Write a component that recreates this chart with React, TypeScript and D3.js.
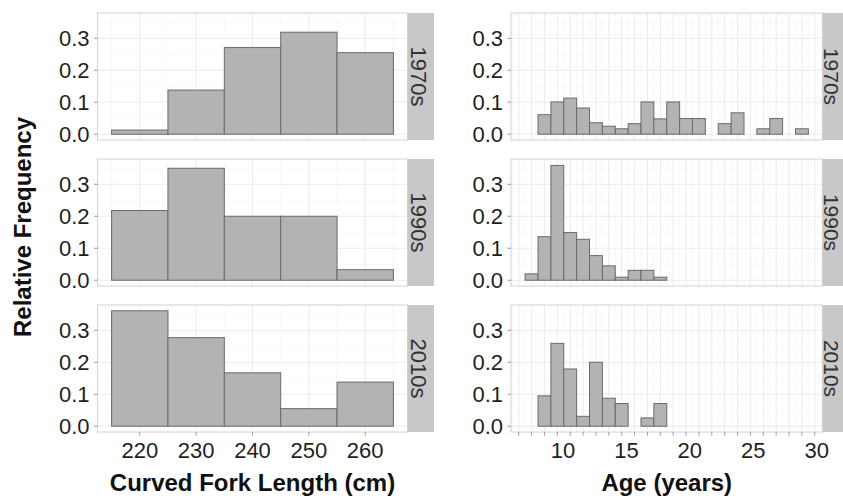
import React from "react";
import * as d3 from "d3";

// ---- Data ----
const decades = ["1970s", "1990s", "2010s"];

// Curved fork length histogram (bin width 10 cm)
const lengthBinStarts = [215, 225, 235, 245, 255];
const lengthBinWidth = 10;
const length1970s = [0.013, 0.138, 0.271, 0.319, 0.255];
const length1990s = [0.218, 0.35, 0.2, 0.2, 0.033];
const length2010s = [0.361, 0.277, 0.167, 0.055, 0.138];

// Age histogram (22 bins)
const ageBinStart = 7.02;
const ageBinWidth = 1.0145;
const age1970s = [0, 0.061, 0.101, 0.113, 0.082, 0.036, 0.025, 0.017, 0.033, 0.101, 0.048, 0.101, 0.049, 0.049, 0, 0.033, 0.067, 0, 0.017, 0.049, 0, 0.017];
const age1990s = [0.02, 0.136, 0.359, 0.149, 0.128, 0.077, 0.045, 0.0095, 0.031, 0.031, 0.0095, 0, 0, 0, 0, 0, 0, 0, 0, 0, 0, 0];
const age2010s = [0, 0.095, 0.259, 0.179, 0.031, 0.2, 0.0875, 0.071, 0, 0.026, 0.071, 0, 0, 0, 0, 0, 0, 0, 0, 0, 0, 0];

const lengthTicks = [220, 230, 240, 250, 260];
const ageTickLabels = [10, 15, 20, 25, 30];
const yTicks = [0, 0.1, 0.2, 0.3];

const lengthSeries = [length1970s, length1990s, length2010s];
const ageSeries = [age1970s, age1990s, age2010s];

// ---- Layout ----
const W = 843;
const H = 498;
const panelTops = [13, 159, 305];
const panelH = 127;
const leftX = [97.5, 407.5];
const rightX = [511, 822.5];
const stripW = 26;

const FILL = "#b3b3b3";
const STROKE = "#6a6a6a";
const GRID = "#e6e6e6";
const GRID_MINOR = "#f3f3f3";
const BORDER = "#d2d2d2";
const STRIP = "#c8c8c8";
const TEXT = "#1f1f1f";
const FONT = "'Liberation Sans', Arial, Helvetica, sans-serif";

const ymax = d3.max([...lengthSeries.flat(), ...ageSeries.flat()]) as number;
const yDomain: [number, number] = [-0.05 * ymax, 1.05 * ymax];

const nAge = age1970s.length;
const ageLo = ageBinStart;
const ageHi = ageBinStart + nAge * ageBinWidth;
const agePad = 0.05 * (ageHi - ageLo);
const xAge = d3.scaleLinear().domain([ageLo - agePad, ageHi + agePad]).range(rightX);
const lenLo = lengthBinStarts[0];
const lenHi = lengthBinStarts[lengthBinStarts.length - 1] + lengthBinWidth;
const lenPad = 0.05 * (lenHi - lenLo);
const xLen = d3.scaleLinear().domain([lenLo - lenPad, lenHi + lenPad]).range(leftX);

// Age breaks at bin centres, minor at bin edges
const ageMajor = d3
  .range(-3, nAge + 3)
  .map((k) => ageBinStart + (k + 0.5) * ageBinWidth)
  .filter((v) => v >= xAge.domain()[0] && v <= xAge.domain()[1]);
const ageMinor = d3
  .range(-3, nAge + 3)
  .map((k) => ageBinStart + k * ageBinWidth)
  .filter((v) => v >= xAge.domain()[0] && v <= xAge.domain()[1]);
const lenMinor = d3.range(205, 275, 10).filter((v) => v >= xLen.domain()[0] && v <= xLen.domain()[1]);
const yMinor = [0.05, 0.15, 0.25, 0.35].filter((v) => v <= yDomain[1]);

function Panel({
  row,
  side,
}: {
  row: number;
  side: "left" | "right";
}) {
  const top = panelTops[row];
  const y = d3.scaleLinear().domain(yDomain).range([top + panelH, top]);
  const x = side === "left" ? xLen : xAge;
  const [x0, x1] = x.range();
  const values = side === "left" ? lengthSeries[row] : ageSeries[row];
  const starts =
    side === "left" ? lengthBinStarts : values.map((_, i) => ageBinStart + i * ageBinWidth);
  const bw = side === "left" ? lengthBinWidth : ageBinWidth;
  const vMajor = side === "left" ? lengthTicks : ageMajor;
  const vMinor = side === "left" ? lenMinor : ageMinor;
  const isBottom = row === 2;
  const stripX = x1 + 0.5;
  const labelX = x0 - 8;
  const stripTextX = side === "left" ? stripX + 10.5 : stripX + 8.5;
  const stripFont = side === "left" ? 22 : 21;

  return (
    <g>
      {/* minor grid */}
      {vMinor.map((v, i) => (
        <line key={"vm" + i} x1={x(v)} x2={x(v)} y1={top} y2={top + panelH} stroke={GRID_MINOR} strokeWidth={0.6} />
      ))}
      {yMinor.map((v, i) => (
        <line key={"hm" + i} x1={x0} x2={x1} y1={y(v)} y2={y(v)} stroke={GRID_MINOR} strokeWidth={0.6} />
      ))}
      {/* major grid */}
      {vMajor.map((v, i) => (
        <line key={"vM" + i} x1={x(v)} x2={x(v)} y1={top} y2={top + panelH} stroke={GRID} strokeWidth={0.8} />
      ))}
      {yTicks.map((v, i) => (
        <line key={"hM" + i} x1={x0} x2={x1} y1={y(v)} y2={y(v)} stroke={GRID} strokeWidth={0.8} />
      ))}
      {/* bars */}
      {values.map((v, i) =>
        v > 0 ? (
          <rect
            key={"b" + i}
            x={x(starts[i])}
            y={y(v)}
            width={x(starts[i] + bw) - x(starts[i])}
            height={y(0) - y(v)}
            fill={FILL}
            stroke={STROKE}
            strokeWidth={1}
          />
        ) : null
      )}
      {/* border */}
      <rect x={x0} y={top} width={x1 - x0} height={panelH} fill="none" stroke={BORDER} strokeWidth={1} />
      {/* strip */}
      <rect x={stripX} y={top} width={stripW} height={panelH} fill={STRIP} />
      <text
        transform={`translate(${stripTextX},${top + panelH / 2}) rotate(90)`}
        textAnchor="middle"
        dy="0.35em"
        fontSize={stripFont}
        fill="#333333"
        fontFamily={FONT}
      >
        {decades[row]}
      </text>
      {/* y ticks */}
      {yTicks.map((v, i) => (
        <g key={"yt" + i}>
          <line x1={x0 - 3.5} x2={x0} y1={y(v)} y2={y(v)} stroke="#9a9a9a" strokeWidth={1} />
          <text x={labelX} y={y(v)} dy="0.36em" textAnchor="end" fontSize={22} fill={TEXT} fontFamily={FONT}>
            {d3.format(".1f")(v)}
          </text>
        </g>
      ))}
      {/* x axis on bottom row */}
      {isBottom &&
        vMajor.map((v, i) => (
          <line key={"xt" + i} x1={x(v)} x2={x(v)} y1={top + panelH} y2={top + panelH + 3.5} stroke="#9a9a9a" strokeWidth={1} />
        ))}
      {isBottom &&
        (side === "left" ? lengthTicks : ageTickLabels).map((v, i) => (
          <text key={"xl" + i} x={x(v)} y={458} textAnchor="middle" fontSize={22} fill={TEXT} fontFamily={FONT}>
            {v}
          </text>
        ))}
    </g>
  );
}

export default function App() {
  return (
    <svg
      width={W}
      height={H}
      viewBox={`0 0 ${W} ${H}`}
      style={{ position: "absolute", left: 0, top: 0, background: "#ffffff" }}
    >
      <rect x={0} y={0} width={W} height={H} fill="#ffffff" />
      {[0, 1, 2].map((r) => (
        <Panel key={"L" + r} row={r} side="left" />
      ))}
      {[0, 1, 2].map((r) => (
        <Panel key={"R" + r} row={r} side="right" />
      ))}
      <text
        transform={`translate(31,227) rotate(-90)`}
        textAnchor="middle"
        fontSize={24}
        fontWeight="bold"
        fill="#111"
        fontFamily={FONT}
      >
        Relative Frequency
      </text>
      <text
        x={(leftX[0] + leftX[1]) / 2}
        y={491}
        textAnchor="middle"
        fontSize={24}
        fontWeight="bold"
        fill="#111"
        fontFamily={FONT}
      >
        Curved Fork Length (cm)
      </text>
      <text
        x={(rightX[0] + rightX[1]) / 2}
        y={491}
        textAnchor="middle"
        fontSize={24}
        fontWeight="bold"
        fill="#111"
        fontFamily={FONT}
      >
        Age (years)
      </text>
    </svg>
  );
}
